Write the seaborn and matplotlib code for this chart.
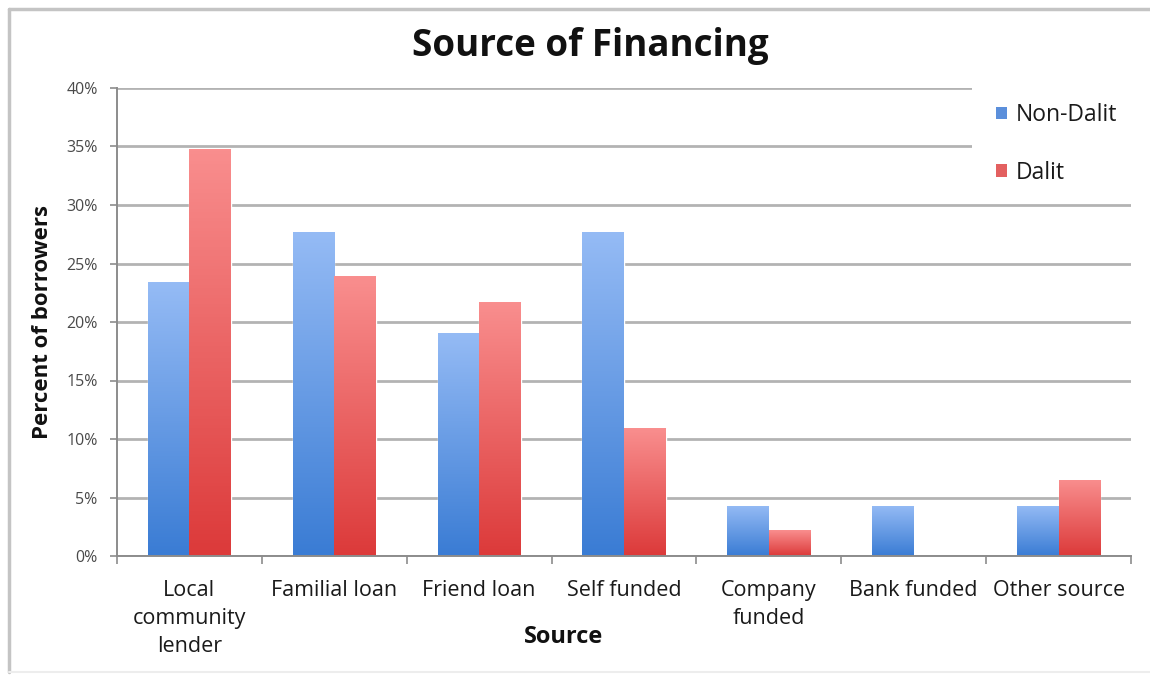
import numpy as np
import pandas as pd
import matplotlib
matplotlib.use("Agg")
import matplotlib.pyplot as plt
import seaborn as sns
from matplotlib.patches import Patch, Rectangle
from matplotlib.lines import Line2D
from matplotlib.ticker import FixedLocator

# ---- data ----
categories = ["Local\ncommunity\nlender", "Familial loan", "Friend loan", "Self funded",
              "Company\nfunded", "Bank funded", "Other source"]
non_dalit = [23.4, 27.7, 19.1, 27.7, 4.3, 4.3, 4.3]
dalit = [34.8, 23.9, 21.7, 10.9, 2.2, 0.0, 6.5]
series = ["Non-Dalit", "Dalit"]
y_ticks = [0, 5, 10, 15, 20, 25, 30, 35, 40]

# ---- style ----
sns.set_theme(style="white")
plt.rcParams["font.family"] = ["Open Sans", "DejaVu Sans"]

W, H = 1150, 675
fig = plt.figure(figsize=(W / 100, H / 100), dpi=100)
ax = fig.add_axes([117 / W, (H - 556) / H, (1131 - 117) / W, (556 - 88) / H])

df = pd.DataFrame({
    "Source": categories * 2,
    "Percent": non_dalit + dalit,
    "Group": [series[0]] * len(categories) + [series[1]] * len(categories),
})

mid_colors = ["#5b8fdb", "#e36060"]
top_colors = [np.array([0x95, 0xbb, 0xf5]) / 255, np.array([0xf9, 0x8e, 0x8e]) / 255]
bot_colors = [np.array([0x3a, 0x7c, 0xd4]) / 255, np.array([0xdc, 0x3a, 0x3a]) / 255]

sns.barplot(data=df, x="Source", y="Percent", hue="Group", palette=mid_colors,
            width=0.573, saturation=1, errorbar=None, legend=False, ax=ax, zorder=2)

# gradient fill for each bar
bars = [p for p in ax.patches]
n = len(categories)
for i, p in enumerate(bars):
    h = p.get_height()
    if h <= 0:
        continue
    k = i // n
    x0 = p.get_x()
    w = p.get_width()
    t = np.linspace(0, 1, 128)[:, None]
    grad = top_colors[k][None, :] * (1 - t) + bot_colors[k][None, :] * t
    img = grad[:, None, :]
    im = ax.imshow(img, extent=(x0, x0 + w, 0, h), origin="upper", aspect="auto", zorder=2.5)
    im.set_clip_path(p)

ax.set_xlim(-0.5, n - 0.5)
ax.set_ylim(0, 40)

# grid & spines
ax.set_axisbelow(True)
ax.yaxis.grid(True, color="#b3b3b3", linewidth=2)
ax.xaxis.grid(False)
for s in ["top", "right"]:
    ax.spines[s].set_visible(False)
for s in ["left", "bottom"]:
    ax.spines[s].set_color("#8c8c8c")
    ax.spines[s].set_linewidth(1.4)

ax.set_yticks(y_ticks)
ax.set_yticklabels([f"{v}%" for v in y_ticks])
ax.tick_params(axis="y", left=True, length=5, width=1.2, color="#8c8c8c",
               labelsize=11.5, labelcolor="#4a4a4a", pad=9)
ax.xaxis.set_minor_locator(FixedLocator(np.arange(-0.5, n, 1.0)))
ax.tick_params(axis="x", which="major", length=0, labelsize=15.5, labelcolor="#1a1a1a", pad=17)
ax.tick_params(axis="x", which="minor", bottom=True, length=6, width=1.2, color="#8c8c8c")
for lbl in ax.get_xticklabels():
    lbl.set_linespacing(1.45)

ax.set_xlabel("Source", fontsize=17, fontweight="bold", color="#111111")
ax.xaxis.set_label_coords((564 - 117) / 1014, (556 - 625) / 468)
ax.set_ylabel("Percent of borrowers", fontsize=16, fontweight="bold", color="#111111")
ax.yaxis.set_label_coords((53 - 117) / 1014, 0.5)

# white area behind legend covering gridlines
ax.add_patch(Rectangle(((972 - 117) / 1014, (556 - 196) / 468), 0.2, 0.3,
                       transform=ax.transAxes, facecolor="white", edgecolor="none",
                       zorder=1, clip_on=False))

handles = [Patch(facecolor=mid_colors[0], edgecolor="none"),
           Patch(facecolor=mid_colors[1], edgecolor="none")]
fig.legend(handles, series, loc="upper left", bbox_to_anchor=(985 / W, 1 - 92 / H),
           frameon=False, fontsize=16.5, handlelength=0.45, handleheight=0.45,
           handletextpad=0.4, labelspacing=1.45, borderpad=0, labelcolor="#1a1a1a")

fig.text(590 / W, 1 - 46 / H, "Source of Financing", ha="center", va="center",
         fontsize=26.5, fontweight="bold", color="#111111")

# figure border (left/top)
fig.add_artist(Line2D([9 / W, 9 / W], [3 / H, 1 - 9 / H], transform=fig.transFigure,
                      color="#c4c4c4", linewidth=2.5))
fig.add_artist(Line2D([9 / W, 1.0], [1 - 9 / H, 1 - 9 / H], transform=fig.transFigure,
                      color="#c4c4c4", linewidth=2.5))
fig.add_artist(Line2D([9 / W, 1.0], [3 / H, 3 / H], transform=fig.transFigure,
                      color="#ededed", linewidth=1.5))

fig.savefig("out.png", dpi=100)
